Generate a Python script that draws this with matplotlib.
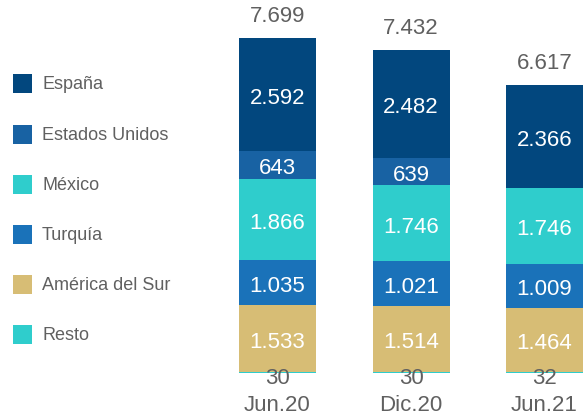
import numpy as np
import matplotlib.pyplot as plt
from matplotlib.patches import Rectangle

plt.rcParams['font.family'] = ['Liberation Sans', 'DejaVu Sans']

periods = ['Jun.20', 'Dic.20', 'Jun.21']
# bottom to top
series = ['Resto', 'América del Sur', 'Turquía', 'México', 'Estados Unidos', 'España']
resto = [30, 30, 32]
america_sur = [1533, 1514, 1464]
turquia = [1035, 1021, 1009]
mexico = [1866, 1746, 1746]
eeuu = [643, 639, 0]
espana = [2592, 2482, 2366]
totals = [7699, 7432, 6617]

colors = {
    'España': '#02477e',
    'Estados Unidos': '#1862a3',
    'México': '#2fcdcc',
    'Turquía': '#1a72b9',
    'América del Sur': '#d7bd75',
    'Resto': '#2fcdcc',
}
grey = '#606060'

def fmt(v):
    return f'{v:,}'.replace(',', '.')

fig = plt.figure(figsize=(5.87, 4.18), dpi=100)
ax = fig.add_axes([230 / 587, 0, 357 / 587, 1])

values = [resto, america_sur, turquia, mexico, eeuu, espana]
x = np.arange(len(periods))
width = 0.577
bottom = np.zeros(len(periods))
for name, vals in zip(series, values):
    vals = np.array(vals, dtype=float)
    ax.bar(x, vals, width, bottom=bottom, color=colors[name], linewidth=0)
    for i, v in enumerate(vals):
        if v == 0:
            continue
        if name == 'Resto':
            ax.text(x[i], bottom[i] - 120, fmt(int(v)), ha='center', va='center',
                    color=grey, fontsize=16)
        else:
            # labels sit a little below the segment centre
            ax.text(x[i], bottom[i] + v / 2 - 90, fmt(int(v)), ha='center', va='center',
                    color='white', fontsize=16)
    bottom += vals

for i, t in enumerate(totals):
    ax.text(x[i], t + 490, fmt(t), ha='center', va='center', color=grey, fontsize=16)

for i, p in enumerate(periods):
    ax.text(x[i], -740, p, ha='center', va='center', color=grey, fontsize=16)

ax.set_xlim(-0.356, 2.318)
ax.set_ylim(-1034, 8575)
ax.axis('off')

# legend, top to bottom
legend_order = ['España', 'Estados Unidos', 'México', 'Turquía', 'América del Sur', 'Resto']
for k, name in enumerate(legend_order):
    yc = 1 - (84 + 50 * k) / 418
    fig.add_artist(Rectangle((13 / 587, yc - 9.5 / 418), 19 / 587, 19 / 418,
                             transform=fig.transFigure, color=colors[name], linewidth=0))
    fig.text(42 / 587, yc - 1 / 418, name, ha='left', va='center', color=grey, fontsize=13)

fig.savefig('out.png', dpi=100)
